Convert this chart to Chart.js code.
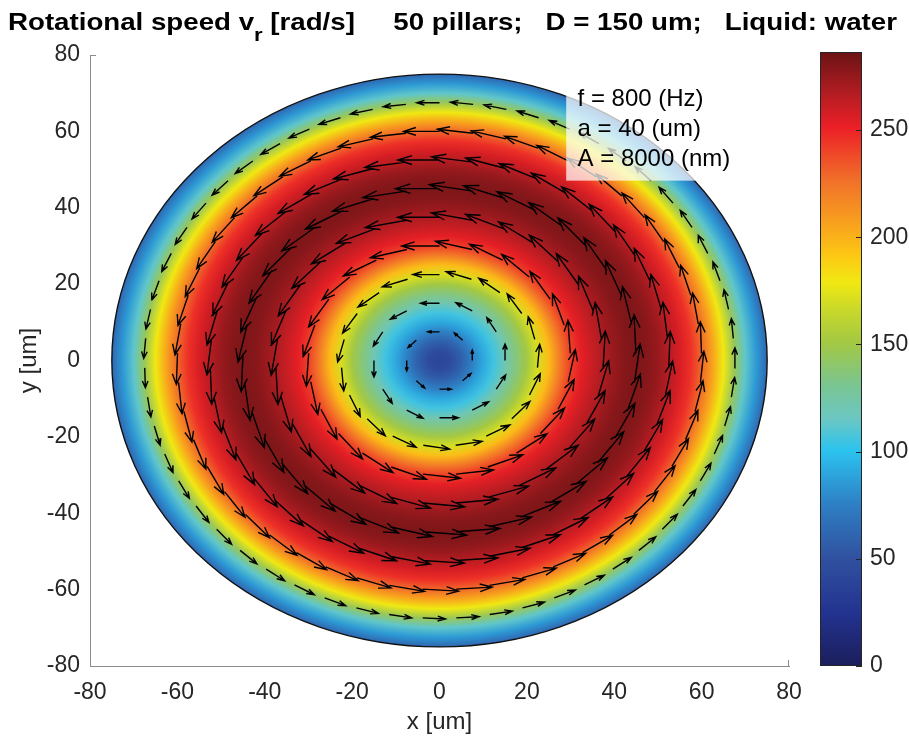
<!DOCTYPE html>
<html>
<head>
<meta charset="utf-8">
<title>Rotational speed</title>
<script src="https://cdn.jsdelivr.net/npm/chart.js@4.4.1/dist/chart.umd.min.js"></script>
<style>
  body { margin: 0; background: #fff; }
  #wrap { position: relative; width: 909px; height: 740px; overflow: hidden; }
  canvas { position: absolute; left: 0; top: 0; }
  #title { position: absolute; left: 8px; top: 8px; font: bold 24px "Liberation Sans", Arial, sans-serif; color: #000; white-space: pre; transform-origin: 0 0; }
  #title sub { font-size: 0.8em; vertical-align: -0.55em; line-height: 0; }
</style>
</head>
<body>
<div id="wrap">
  <canvas id="chart" width="909" height="740"></canvas>
  <div id="title">Rotational speed v<sub>r</sub> [rad/s]     50 pillars;   D = 150 um;   Liquid: water</div>
</div>
<script>
// radial profile of the speed (r in um, v in rad/s)
const profileR = [0, 2.5, 5, 7.5, 10, 12.5, 15, 17.5, 20, 22.5, 25, 27.5, 30, 32.5, 35, 37.5, 40, 42.5, 45, 47.5, 50, 52.5, 55, 57.5, 60, 62.5, 65, 67.5, 70, 72.5, 75];
const profileV = [40, 45, 58, 75, 90, 105, 120, 135, 150, 170, 195, 220, 240, 252, 260, 267, 273, 278, 280, 278, 273, 265, 256, 245, 228, 205, 178, 145, 112, 85, 62];

// quiver rings
const arrowRings = [7.5, 15, 22.5, 30, 37.5, 45, 52.5, 60, 67.5];
const arrowCounts = [8, 12, 19, 25, 31, 37, 43, 49, 55];
const arrowScale = 0.036;

const axisTicks = [-80, -60, -40, -20, 0, 20, 40, 60, 80];
const cbTicks = [0, 50, 100, 150, 200, 250];
const cbMax = 285;

const cmapValues = [0, 25, 50, 75, 100, 115, 130, 150, 165, 178, 190, 205, 225, 250, 265, 285];
const cmapColors = ['#1b1e5c', '#233390', '#30519f', '#2e7fc4', '#2cc3ef', '#6cc7c2', '#79c593', '#a3c843', '#c8d82a', '#f0e812', '#fdc914', '#f8a21d', '#f1712a', '#ec1f26', '#b51d22', '#6b1315'];

const infoLines = ['f = 800 (Hz)', 'a = 40 (um)', 'A = 8000 (nm)'];

const FONT = '"Liberation Sans", Arial, sans-serif';
const TXT = '#262626';

function hexRgb(h) {
    return [parseInt(h.slice(1, 3), 16), parseInt(h.slice(3, 5), 16), parseInt(h.slice(5, 7), 16)];
}

function cmap(v) {
    let i = 0;
    while (i < cmapValues.length - 2 && v > cmapValues[i + 1]) i++;
    const t = Math.max(0, Math.min(1, (v - cmapValues[i]) / (cmapValues[i + 1] - cmapValues[i])));
    const a = hexRgb(cmapColors[i]), b = hexRgb(cmapColors[i + 1]);
    return 'rgb(' + a.map((c, k) => Math.round(c + (b[k] - c) * t)).join(',') + ')';
}

// arrows as one line dataset, broken by null points
const arrowPoints = [];
const ha = 0.34, hb = 0.36;
arrowRings.forEach((r, k) => {
    const n = arrowCounts[k];
    const L = profileV[profileR.indexOf(r)] * arrowScale;
    for (let j = 0; j < n; j++) {
        const th = Math.PI / 2 + 2 * Math.PI * j / n;
        const x0 = r * Math.cos(th), y0 = r * Math.sin(th);
        const u = -Math.sin(th) * L, v = Math.cos(th) * L;
        const x1 = x0 + u, y1 = y0 + v;
        arrowPoints.push({ x: x0, y: y0 }, { x: x1, y: y1 }, { x: x1, y: null });
        arrowPoints.push({ x: x1 - ha * (u + hb * v), y: y1 - ha * (v - hb * u) }, { x: x1, y: y1 },
            { x: x1 - ha * (u - hb * v), y: y1 - ha * (v + hb * u) }, { x: x1, y: null });
    }
});

const fieldPlugin = {
    id: 'field',
    beforeDatasetsDraw(chart) {
        const { ctx, scales: { x, y } } = chart;
        const cx = x.getPixelForValue(0), cy = y.getPixelForValue(0);
        const sx = x.getPixelForValue(1) - cx, sy = cy - y.getPixelForValue(1);
        const R = profileR[profileR.length - 1];
        ctx.save();
        ctx.translate(cx, cy);
        ctx.scale(sx, sy);
        const g = ctx.createRadialGradient(0, 0, 0, 0, 0, R);
        profileR.forEach((r, i) => g.addColorStop(r / R, cmap(profileV[i])));
        ctx.beginPath();
        ctx.arc(0, 0, R, 0, Math.PI * 2);
        ctx.fillStyle = g;
        ctx.fill();
        ctx.restore();
        ctx.save();
        ctx.beginPath();
        ctx.ellipse(cx, cy, R * sx, R * sy, 0, 0, Math.PI * 2);
        ctx.lineWidth = 1.4;
        ctx.strokeStyle = '#111';
        ctx.stroke();
        ctx.restore();
    },
    afterDatasetsDraw(chart) {
        const { ctx, scales: { x, y } } = chart;
        // info box
        const bx = x.getPixelForValue(29), by = y.getPixelForValue(73.6);
        const bw = x.getPixelForValue(71) - bx, bh = y.getPixelForValue(47.1) - by;
        ctx.save();
        ctx.fillStyle = 'rgba(255,255,255,0.72)';
        ctx.fillRect(bx, by, bw, bh);
        ctx.fillStyle = '#000';
        ctx.font = '24px ' + FONT;
        ctx.textBaseline = 'alphabetic';
        infoLines.forEach((s, i) => ctx.fillText(s, x.getPixelForValue(31.6), y.getPixelForValue(66.6 - 7.85 * i)));
        ctx.restore();
    },
    afterDraw(chart) {
        const { ctx, scales: { x, y, cb } } = chart;
        ctx.save();
        // end ticks of the axes
        ctx.strokeStyle = '#8c8c8c';
        ctx.lineWidth = 1;
        ctx.beginPath();
        ctx.moveTo(x.left, y.top + 0.5); ctx.lineTo(x.left + 6, y.top + 0.5);
        ctx.moveTo(x.right - 0.5, y.bottom); ctx.lineTo(x.right - 0.5, y.bottom - 6);
        ctx.stroke();
        // colorbar
        const top = cb.getPixelForValue(cbMax) - 3, bottom = cb.getPixelForValue(0);
        const left = cb.left + 31, w = 42;
        const g = ctx.createLinearGradient(0, bottom, 0, top);
        cmapValues.forEach((v, i) => g.addColorStop(v / cbMax, cmapColors[i]));
        ctx.fillStyle = g;
        ctx.fillRect(left, top, w, bottom - top);
        ctx.strokeStyle = '#262626';
        ctx.lineWidth = 1;
        ctx.strokeRect(left + 0.5, top + 0.5, w - 1, bottom - top - 1);
        ctx.beginPath();
        cbTicks.forEach(v => {
            const py = Math.round(cb.getPixelForValue(v)) + 0.5;
            ctx.moveTo(left + w - 6, py); ctx.lineTo(left + w, py);
        });
        ctx.stroke();
        ctx.restore();
    }
};

const tickFont = { family: FONT, size: 23 };

function noPad(s) {
    s.paddingTop = 0;
    s.paddingBottom = 0;
}

new Chart(document.getElementById('chart'), {
    type: 'scatter',
    data: {
        datasets: [{
            data: arrowPoints,
            showLine: true,
            spanGaps: false,
            borderColor: '#000',
            borderWidth: 1.4,
            pointRadius: 0,
            pointHoverRadius: 0,
            tension: 0
        }]
    },
    options: {
        responsive: false,
        animation: false,
        devicePixelRatio: 1,
        events: [],
        layout: { padding: { top: 55, left: 0, right: 0, bottom: 0 } },
        plugins: { legend: { display: false }, tooltip: { enabled: false } },
        scales: {
            x: {
                type: 'linear', min: -80, max: 80,
                afterBuildTicks: s => { s.ticks = axisTicks.map(v => ({ value: v })); },
                afterFit: s => { s.height = 74; s.paddingLeft = 0; s.paddingRight = 0; },
                ticks: { font: tickFont, color: TXT, padding: 13, maxRotation: 0 },
                grid: { drawOnChartArea: false, drawTicks: false },
                border: { color: '#8c8c8c', width: 1 },
                title: { display: true, text: 'x [um]', font: { family: FONT, size: 24 }, color: TXT, padding: { top: 0, bottom: 3 } }
            },
            y: {
                type: 'linear', min: -80, max: 80,
                afterBuildTicks: s => { s.ticks = axisTicks.map(v => ({ value: v })); },
                afterFit: s => { s.width = 90; noPad(s); },
                ticks: { font: tickFont, color: TXT, padding: 10 },
                grid: { drawOnChartArea: false, drawTicks: false },
                border: { color: '#8c8c8c', width: 1 },
                title: { display: true, text: 'y [um]', font: { family: FONT, size: 24 }, color: TXT, padding: { top: 15, bottom: 0 } }
            },
            cb: {
                type: 'linear', axis: 'y', position: 'right', display: true, min: 0, max: cbMax,
                afterBuildTicks: s => { s.ticks = cbTicks.map(v => ({ value: v })); },
                afterFit: s => { s.width = 120; noPad(s); },
                ticks: { font: tickFont, color: TXT, padding: 81 },
                grid: { display: false, drawTicks: false },
                border: { display: false }
            }
        }
    },
    plugins: [fieldPlugin]
});

const titleEl = document.getElementById('title');
const tw = titleEl.getBoundingClientRect().width;
titleEl.style.transform = 'scaleX(' + (889 / tw).toFixed(3) + ')';
</script>
</body>
</html>
